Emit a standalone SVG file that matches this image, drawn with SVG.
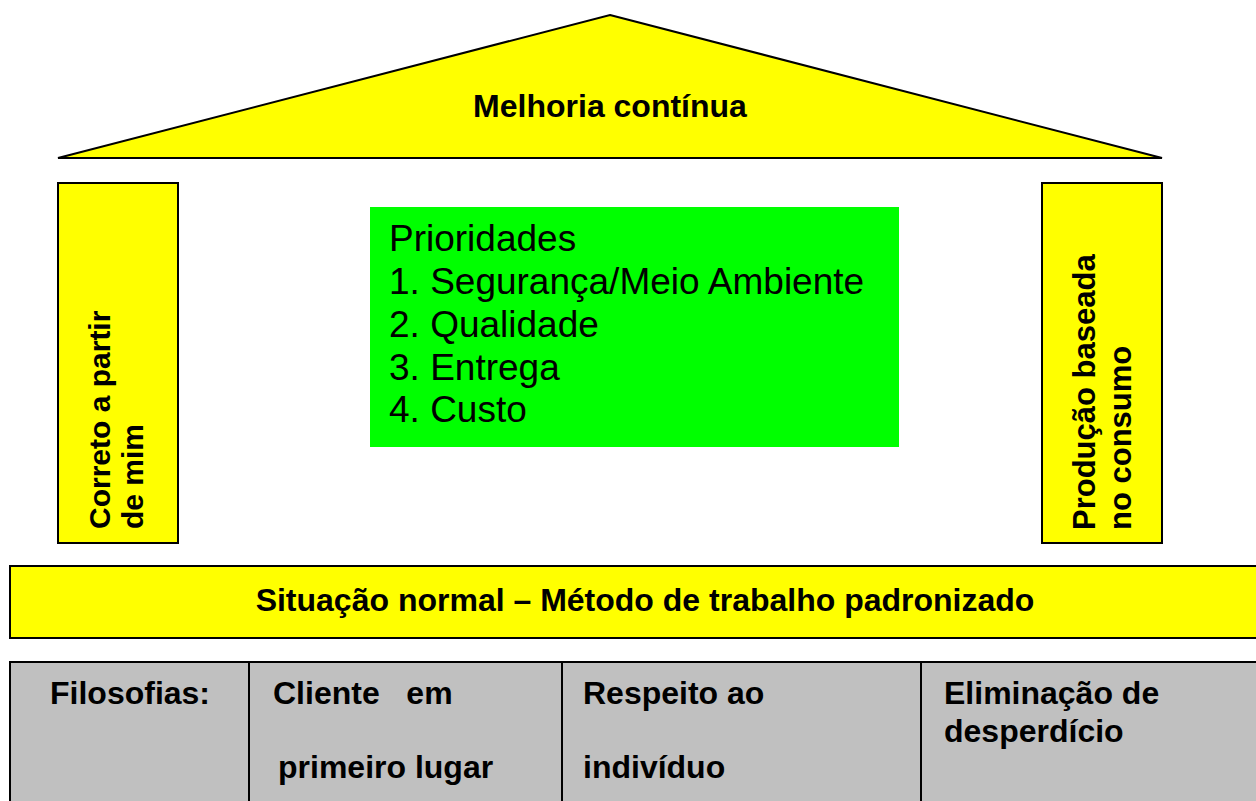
<svg xmlns="http://www.w3.org/2000/svg" width="1256" height="801" viewBox="0 0 1256 801">
<style>
.y{fill:#ffff00;stroke:#000;stroke-width:2}
.g{fill:#c0c0c0;stroke:#000;stroke-width:2}
.b{font-family:"Liberation Sans",Arial,sans-serif;font-weight:bold;font-size:32px;fill:#000}
.p{font-family:"Liberation Sans",Arial,sans-serif;font-weight:bold;font-size:30px;fill:#000}
.r{font-family:"Liberation Sans",Arial,sans-serif;font-size:37px;fill:#000}
</style>
<rect width="1256" height="801" fill="#fff"/>
<g id="roof">
<polygon class="y" points="610,15 1162,158 58,158"/>
<text class="b" x="610" y="117" text-anchor="middle">Melhoria contínua</text>
</g>
<g id="pillar-left">
<rect class="y" x="58" y="183" width="120" height="360"/>
<text class="p" transform="translate(110,529) rotate(-90)">Correto a partir</text>
<text class="p" transform="translate(143,529) rotate(-90)">de mim</text>
</g>
<g id="pillar-right">
<rect class="y" x="1042" y="183" width="120" height="360"/>
<text class="p" transform="translate(1095,530) rotate(-90)" style="font-size:31px">Produção baseada</text>
<text class="p" transform="translate(1131,530) rotate(-90)" style="font-size:31px">no consumo</text>
</g>
<g id="priorities">
<rect x="370" y="207" width="529" height="240" fill="#00ff00"/>
<text class="r" x="389" y="251">Prioridades</text>
<text class="r" x="389" y="294">1. Segurança/Meio Ambiente</text>
<text class="r" x="389" y="337">2. Qualidade</text>
<text class="r" x="389" y="380">3. Entrega</text>
<text class="r" x="389" y="422">4. Custo</text>
</g>
<g id="base">
<rect class="y" x="10" y="566" width="1256" height="72"/>
<text class="b" x="645" y="611" text-anchor="middle">Situação normal – Método de trabalho padronizado</text>
</g>
<g id="philosophies">
<rect class="g" x="10" y="662" width="1256" height="150"/>
<line x1="249" y1="662" x2="249" y2="801" stroke="#000" stroke-width="2"/>
<line x1="562" y1="662" x2="562" y2="801" stroke="#000" stroke-width="2"/>
<line x1="921" y1="662" x2="921" y2="801" stroke="#000" stroke-width="2"/>
<text class="b" x="50" y="704">Filosofias:</text>
<text class="b" x="273" y="704" xml:space="preserve">Cliente   em</text>
<text class="b" x="278" y="778">primeiro lugar</text>
<text class="b" x="583" y="704">Respeito ao</text>
<text class="b" x="583" y="778">indivíduo</text>
<text class="b" x="944" y="704">Eliminação de</text>
<text class="b" x="944" y="742">desperdício</text>
</g>
<g id="connectors"></g>
</svg>
